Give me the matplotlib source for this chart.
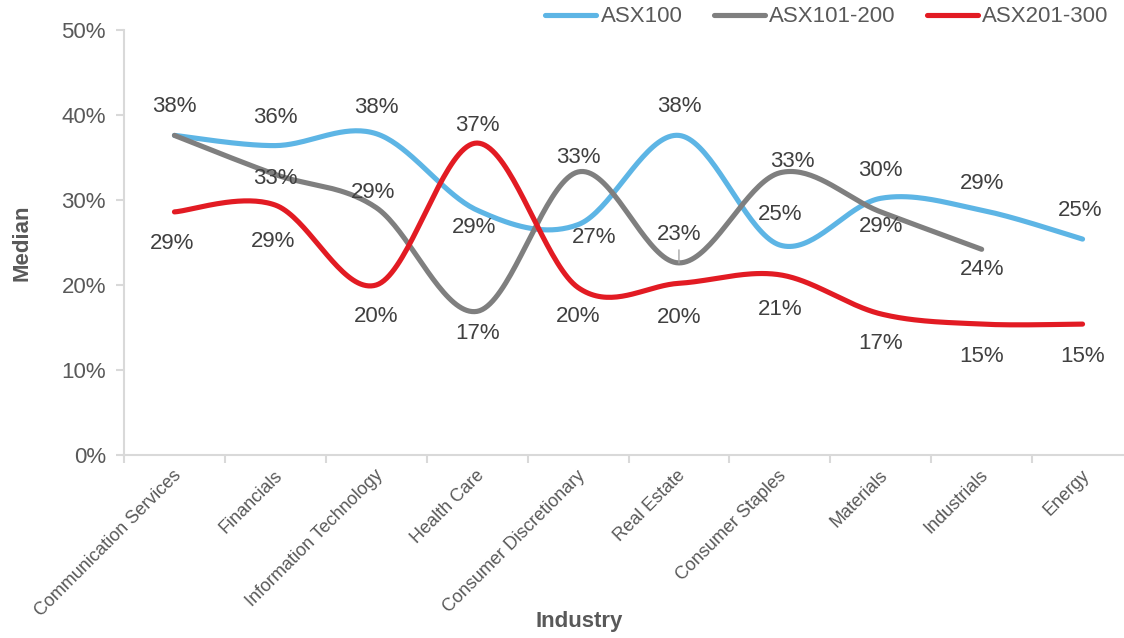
import numpy as np
import matplotlib
matplotlib.use("Agg")
import matplotlib.pyplot as plt

# ---------------- data ----------------
industries = ["Communication Services", "Financials", "Information Technology",
              "Health Care", "Consumer Discretionary", "Real Estate",
              "Consumer Staples", "Materials", "Industrials", "Energy"]
asx100 = [37.6, 36.4, 37.8, 28.8, 27.1, 37.6, 24.7, 30.2, 28.8, 25.4]
asx101_200 = [37.6, 33.0, 29.1, 16.9, 33.3, 22.6, 33.2, 28.6, 24.2]
asx201_300 = [28.6, 29.4, 20.0, 36.7, 19.7, 20.2, 21.2, 16.6, 15.4, 15.4]
series_names = ["ASX100", "ASX101-200", "ASX201-300"]
y_ticks = [0, 10, 20, 30, 40, 50]

# ---------------- styling / layout ----------------
colors = ["#5DB5E5", "#7F7F7F", "#E21B23"]
# label offsets in pixels (dx, dy; dy positive = downward)
offsets = [
    [(0, -29), (0, -28), (0, -26), (-3, 17), (16, 13), (0, -29), (0, -31), (0, -28), (0, -27), (-2, -29)],
    [None, (0, 4), (-3, -15), (0, 22), (0, -14), (0, -28), (13, -11), (0, 15), (0, 20)],
    [(-2, 32), (-2, 36), (0, 32), (0, -18), (0, 29), (0, 34), (0, 35), (0, 30), (0, 32), (0, 32)],
]

W, H = 1124, 638
fig = plt.figure(figsize=(W / 100, H / 100), dpi=100)
ax_left, ax_right, ax_top, ax_bottom = 124, 1133, 30, 455
ax = fig.add_axes([ax_left / W, 1 - ax_bottom / H, (ax_right - ax_left) / W, (ax_bottom - ax_top) / H])
ax.set_xlim(-0.5, len(industries) - 0.5)
ax.set_ylim(0, 50)

font = "Liberation Sans"
txt_col = "#595959"
lbl_col = "#404040"
axis_col = "#D9D9D9"


def smooth(xs, ys, n=40):
    P = np.column_stack([xs, ys]).astype(float)
    m = len(P)
    out = []
    for i in range(m - 1):
        p0 = P[max(i - 1, 0)]
        p1 = P[i]
        p2 = P[i + 1]
        p3 = P[min(i + 2, m - 1)]
        b1 = p1 + (p2 - p0) / 6.0
        b2 = p2 - (p3 - p1) / 6.0
        t = np.linspace(0, 1, n)[:, None]
        seg = (1 - t) ** 3 * p1 + 3 * (1 - t) ** 2 * t * b1 + 3 * (1 - t) * t ** 2 * b2 + t ** 3 * p2
        out.append(seg if i == 0 else seg[1:])
    c = np.vstack(out)
    return c[:, 0], c[:, 1]


all_series = [asx100, asx101_200, asx201_300]
for s, (vals, name, col) in enumerate(zip(all_series, series_names, colors)):
    xs = np.arange(len(vals))
    sx, sy = smooth(xs, vals)
    ax.plot(sx, sy, color=col, lw=3.7, solid_capstyle="round", label=name, zorder=3)
    for i, v in enumerate(vals):
        off = offsets[s][i]
        if off is None:
            continue
        ax.annotate(f"{v:.0f}%", (i, v), xytext=(off[0] * 0.72, -off[1] * 0.72),
                    textcoords="offset points", ha="center", va="center",
                    fontsize=16, color=lbl_col, family=font, zorder=4)

# leader line for Real Estate ASX101-200 label
ax.annotate("", (5, asx101_200[5]), xytext=(0, 13 * 0.72), textcoords="offset points",
            arrowprops=dict(arrowstyle="-", color="#A6A6A6", lw=1.0, shrinkA=0, shrinkB=0))

# axes styling
for sp in ["top", "right"]:
    ax.spines[sp].set_visible(False)
for sp in ["left", "bottom"]:
    ax.spines[sp].set_color(axis_col)
    ax.spines[sp].set_linewidth(1.5)

ax.set_yticks(y_ticks)
ax.set_yticklabels([f"{t}%" for t in y_ticks], fontsize=16, color=txt_col, family=font)
ax.tick_params(axis="y", direction="out", length=6, width=1.5, color=axis_col, pad=7)

ax.set_xticks(np.arange(len(industries) + 1) - 0.5, minor=False)
ax.set_xticklabels([])
ax.tick_params(axis="x", direction="out", length=6, width=1.5, color=axis_col)
for i, name in enumerate(industries):
    ax.annotate(name, (i, 0), xytext=(3, -13), textcoords="offset points",
                rotation=45, rotation_mode="anchor", ha="right", va="center",
                fontsize=13, color=txt_col, family=font, annotation_clip=False)

fig.text(22 / W, 1 - 243 / H, "Median", rotation=90, ha="center", va="center",
         fontsize=16, fontweight="bold", color=txt_col, family=font)
fig.text(579 / W, 1 - 622 / H, "Industry", ha="center", va="center",
         fontsize=16, fontweight="bold", color=txt_col, family=font)

leg = fig.legend(loc="center", bbox_to_anchor=(827 / W, 1 - 17 / H), ncol=3, frameon=False,
                 handlelength=2.3, handletextpad=0.2, columnspacing=1.4,
                 prop={"family": font, "size": 16})
for t in leg.get_texts():
    t.set_color(txt_col)
for l in leg.get_lines():
    l.set_linewidth(3.7)
    l.set_solid_capstyle("round")

fig.savefig("out.png", dpi=100)
